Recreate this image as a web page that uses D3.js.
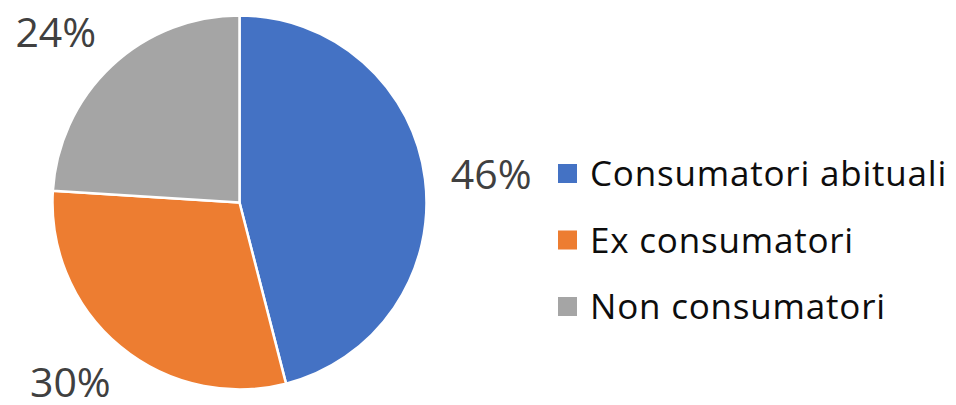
<!DOCTYPE html>
<html>
<head>
<meta charset="utf-8">
<script src="https://cdn.jsdelivr.net/npm/d3@7"></script>
<style>
  html, body { margin: 0; padding: 0; background: #fff; }
  svg { display: block; }
</style>
</head>
<body>
<svg id="chart" width="956" height="405"></svg>
<script>
// Consumption status shares
const categories = ["Consumatori abituali", "Ex consumatori", "Non consumatori"];
const values = [46, 30, 24];
const colors = ["#4472C4", "#ED7D31", "#A5A5A5"];

const W = 956, H = 405;
const cx = 239.5, cy = 202.5, R = 187;
const labelRadius = 213;
const labelFont = "'Open Sans', 'Noto Sans', sans-serif";

const svg = d3.select("#chart");
const g = svg.append("g").attr("transform", `translate(${cx},${cy})`);

const pie = d3.pie().sort(null).value(d => d)(values);
const arc = d3.arc().innerRadius(0).outerRadius(R);

g.selectAll("path.slice")
  .data(pie)
  .join("path")
  .attr("class", "slice")
  .attr("d", arc)
  .attr("fill", (d, i) => colors[i])
  .attr("stroke", "#fff")
  .attr("stroke-width", 2.5)
  .attr("stroke-linejoin", "round");

// Percentage labels sit just outside each slice, with the corner facing the pie
const total = d3.sum(values);
const fmt = v => Math.round(v / total * 100) + "%";
const capH = 30;

g.selectAll("text.pct")
  .data(pie)
  .join("text")
  .attr("class", "pct")
  .attr("font-family", labelFont)
  .attr("font-size", 41)
  .attr("fill", "#404040")
  .attr("text-anchor", "middle")
  .text(d => fmt(d.data))
  .each(function (d) {
    const a = (d.startAngle + d.endAngle) / 2;
    const dx = Math.sin(a), dy = -Math.cos(a);
    const m = Math.max(Math.abs(dx), Math.abs(dy));
    const nx = dx / m, ny = dy / m;
    const w = this.getComputedTextLength();
    const px = dx * labelRadius, py = dy * labelRadius;
    const x = px + nx * w / 2;
    const yc = py + ny * capH / 2;
    d3.select(this).attr("x", x).attr("y", yc + capH / 2);
  });

// Legend
const legendY = d3.scalePoint().domain(categories).range([173.5, 306.5]);
const leg = svg.append("g").attr("class", "legend");
const sq = 19;

const items = leg.selectAll("g.item")
  .data(categories)
  .join("g")
  .attr("class", "item")
  .attr("transform", d => `translate(558,${legendY(d)})`);

items.append("rect")
  .attr("x", 0)
  .attr("y", -sq / 2)
  .attr("width", sq)
  .attr("height", sq)
  .attr("fill", (d, i) => colors[i]);

items.append("text")
  .attr("x", 32)
  .attr("y", 12.5)
  .attr("font-family", labelFont)
  .attr("font-size", 35)
  .attr("letter-spacing", 0.8)
  .attr("fill", "#0d0d0d")
  .text(d => d);
</script>
</body>
</html>
